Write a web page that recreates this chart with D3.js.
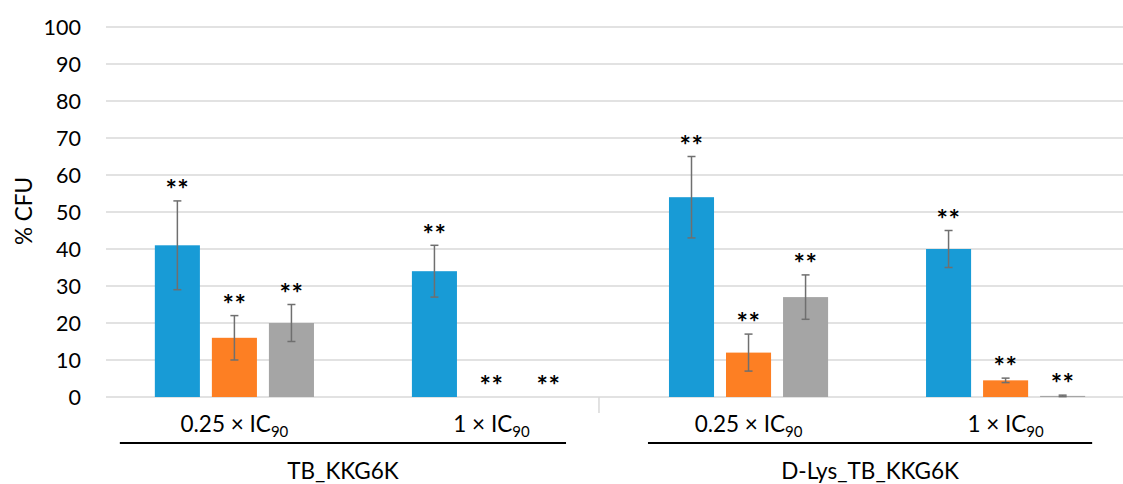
<!DOCTYPE html>
<html>
<head>
<meta charset="utf-8">
<script src="https://cdn.jsdelivr.net/npm/d3@7"></script>
<style>
  body { margin: 0; background: #fff; }
  text { font-family: Lato, "Open Sans", sans-serif; fill: #000; }
</style>
</head>
<body>
<script>
// data
const categories = ["TB 0.25", "TB 1", "DL 0.25", "DL 1"];
const doseLabels = ["0.25 × IC", "1 × IC", "0.25 × IC", "1 × IC"];
const groups = ["TB_KKG6K", "D-Lys_TB_KKG6K"];
const seriesNames = ["s1", "s2", "s3"];
const blueValues = [41, 34, 54, 40];
const blueErrors = [12, 7, 11, 5];
const orangeValues = [16, 0, 12, 4.5];
const orangeErrors = [6, 0, 5, 0.6];
const grayValues = [20, 0, 27, 0.3];
const grayErrors = [5, 0, 6, 0.2];
const yTicks = [0, 10, 20, 30, 40, 50, 60, 70, 80, 90, 100];

const colors = ["#189bd6", "#fd7f23", "#a5a5a5"];
const values = [blueValues, orangeValues, grayValues];
const errors = [blueErrors, orangeErrors, grayErrors];

const W = 1123, H = 484;
const plotLeft = 106, plotRight = 1134, plotTop = 27, plotBottom = 397;

const svg = d3.select("body").append("svg")
  .attr("width", W)
  .attr("height", H);

const x0 = d3.scaleBand().domain(categories).range([plotLeft, plotRight])
  .paddingInner(0.381).paddingOuter(0.19);
const x1 = d3.scaleBand().domain(seriesNames).range([0, x0.bandwidth()])
  .paddingInner(0.21);
const y = d3.scaleLinear().domain([0, 100]).range([plotBottom, plotTop]);

// gridlines
svg.append("g")
  .selectAll("line")
  .data(yTicks)
  .enter()
  .append("line")
  .attr("x1", plotLeft)
  .attr("x2", W)
  .attr("y1", (d) => y(d))
  .attr("y2", (d) => y(d))
  .attr("stroke", "#d9d9d9")
  .attr("stroke-width", 1.5);

// y axis labels
svg.append("g")
  .selectAll("text")
  .data(yTicks)
  .enter()
  .append("text")
  .attr("x", 81)
  .attr("y", (d) => y(d))
  .attr("dy", "0.36em")
  .attr("text-anchor", "end")
  .attr("font-size", 21.5)
  .text((d) => d);

svg.append("text")
  .attr("transform", "translate(32," + (y(50) - 1) + ") rotate(-90)")
  .attr("text-anchor", "middle")
  .attr("font-size", 22.5)
  .text("% CFU");

// bars
const points = [];
categories.forEach((c, i) => {
  seriesNames.forEach((s, j) => {
    points.push({ cat: c, s: s, v: values[j][i], e: errors[j][i], color: colors[j] });
  });
});

const px = (d) => x0(d.cat) + x1(d.s);

svg.append("g")
  .selectAll("rect")
  .data(points.filter((d) => d.v > 0))
  .enter()
  .append("rect")
  .attr("x", px)
  .attr("width", x1.bandwidth())
  .attr("y", (d) => y(d.v))
  .attr("height", (d) => y(0) - y(d.v))
  .attr("fill", (d) => d.color);

// error bars
const eb = svg.append("g")
  .attr("stroke", "#6f6f6f")
  .attr("stroke-width", 1.5)
  .selectAll("g")
  .data(points.filter((d) => d.e > 0))
  .enter()
  .append("g");

eb.append("line")
  .attr("x1", (d) => px(d) + x1.bandwidth() / 2)
  .attr("x2", (d) => px(d) + x1.bandwidth() / 2)
  .attr("y1", (d) => y(d.v - d.e))
  .attr("y2", (d) => y(d.v + d.e));
eb.append("line")
  .attr("x1", (d) => px(d) + x1.bandwidth() / 2 - 4)
  .attr("x2", (d) => px(d) + x1.bandwidth() / 2 + 4)
  .attr("y1", (d) => y(d.v + d.e))
  .attr("y2", (d) => y(d.v + d.e));
eb.append("line")
  .attr("x1", (d) => px(d) + x1.bandwidth() / 2 - 4)
  .attr("x2", (d) => px(d) + x1.bandwidth() / 2 + 4)
  .attr("y1", (d) => y(d.v - d.e))
  .attr("y2", (d) => y(d.v - d.e));

// significance stars
svg.append("g")
  .selectAll("text")
  .data(points)
  .enter()
  .append("text")
  .attr("x", (d) => px(d) + x1.bandwidth() / 2)
  .attr("y", (d) => y(d.v + d.e) - 18)
  .attr("dy", "0.6em")
  .attr("text-anchor", "middle")
  .attr("font-size", 27)
  .attr("font-weight", "bold")
  .attr("letter-spacing", 0.5)
  .text("**");

// dose labels with subscript
const dl = svg.append("g")
  .selectAll("text")
  .data(categories)
  .enter()
  .append("text")
  .attr("x", (d) => x0(d) + x0.bandwidth() / 2)
  .attr("y", 432)
  .attr("text-anchor", "middle")
  .attr("font-size", 22.5);
dl.append("tspan").text((d, i) => doseLabels[i]);
dl.append("tspan").attr("font-size", 15).attr("dy", 5).text("90");

// separator tick between groups
svg.append("line")
  .attr("x1", x0(categories[2]) - 70)
  .attr("x2", x0(categories[2]) - 70)
  .attr("y1", plotBottom)
  .attr("y2", 413)
  .attr("stroke", "#d9d9d9")
  .attr("stroke-width", 1.5);

// group underlines and names
const groupSpan = [
  [x0(categories[0]) - 35, x0(categories[1]) + x0.bandwidth() - 5],
  [x0(categories[2]) - 21, x0(categories[3]) + x0.bandwidth() + 7]
];
svg.append("g")
  .selectAll("line")
  .data(groups)
  .enter()
  .append("line")
  .attr("x1", (d, i) => groupSpan[i][0])
  .attr("x2", (d, i) => groupSpan[i][1])
  .attr("y1", 443)
  .attr("y2", 443)
  .attr("stroke", "#000")
  .attr("stroke-width", 2);

svg.append("g")
  .selectAll("text")
  .data(groups)
  .enter()
  .append("text")
  .attr("x", (d, i) => (groupSpan[i][0] + groupSpan[i][1]) / 2)
  .attr("y", 479)
  .attr("text-anchor", "middle")
  .attr("font-size", 22.5)
  .text((d) => d);
</script>
</body>
</html>
